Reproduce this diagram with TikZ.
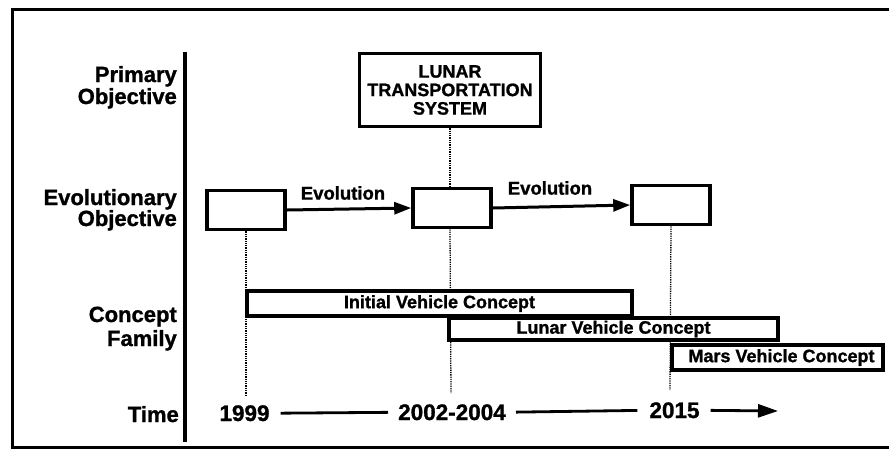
\documentclass[tikz,border=0pt]{standalone}
\usepackage{fontspec}
\setmainfont{Liberation Sans}[BoldFeatures={FakeBold=1.2}]
\usetikzlibrary{arrows.meta}
\begin{document}
\begin{tikzpicture}[x=1pt,y=-1pt,
  lbl/.style={font=\fontsize{22}{24}\selectfont\bfseries, anchor=base east, inner sep=0pt},
  yr/.style={font=\fontsize{22.5}{24}\selectfont\bfseries, anchor=base, inner sep=0pt},
  ebox/.style={draw, line width=3.6pt, fill=white, minimum width=78pt, minimum height=39pt, inner sep=0pt},
  cbox/.style={draw, line width=3.2pt, fill=white, inner sep=0pt, font=\fontsize{18}{18}\selectfont\bfseries},
  ltsbox/.style={draw, line width=3.4pt, fill=white, inner sep=0pt, minimum width=181pt, minimum height=73pt, align=center, font=\fontsize{18}{18.5}\selectfont\bfseries},
  evotxt/.style={font=\fontsize{18.5}{20}\selectfont\bfseries, inner sep=0pt},
  dots/.style={line width=1.3pt, densely dotted},
  evo/.style={line width=3pt, -{Triangle[length=17pt,width=12pt]}},
  tline/.style={line width=2.8pt},
  tarrow/.style={line width=2.8pt, -{Triangle[length=20pt,width=13pt]}}
]
\useasboundingbox (0,0) rectangle (889,451);
% frame
\draw[line width=3pt] (895,9) -- (12,9) -- (12,447) -- (895,447);
% axis
\coordinate (axT) at (185,52);
\coordinate (axB) at (185,442);
\draw[line width=3.2pt] (axT) -- (axB);
% row labels
\node[lbl] (l1) at (177,82) {Primary};
\node[lbl] (l2) at (177,104) {Objective};
\node[lbl] (l3) at (177,205) {Evolutionary};
\node[lbl] (l4) at (177,226) {Objective};
\node[lbl] (l5) at (177,322) {Concept};
\node[lbl] (l6) at (177,346) {Family};
\node[lbl] (l7) at (179,422) {Time};
% free ends of dotted lines
\coordinate (d1) at (246,396);
\coordinate (d2) at (451,393);
\coordinate (d3) at (670,390);
% top box
\node[ltsbox] (lts) at (450,90) {LUNAR\\TRANSPORTATION\\SYSTEM};
% evolutionary boxes
\node[ebox] (b1) at (246,210) {};
\node[ebox] (b2) at (452,208) {};
\node[ebox] (b3) at (671,205) {};
% dotted lines
\draw[dots] (lts.south) -- (lts.south |- b2.north);
\draw[dots] (b1.south) -- (d1);
\draw[dots] (b2.south -| lts.south) -- (d2);
\draw[dots] (b3.south) -- (d3);
% redraw boxes on top
\node[ebox] at (246,210) {};
\node[ebox] at (452,208) {};
\node[ebox] at (671,205) {};
% evolution arrows
\draw[evo] (b1.east) -- (b2.west);
\draw[evo] (b2.east) -- (b3.west);
\node[evotxt] (e1) at (343,193) {Evolution};
\node[evotxt] (e2) at (550,188) {Evolution};
% concept boxes
\node[cbox, minimum width=385pt, minimum height=25pt] (ic) at (439.5,303.5) {Initial Vehicle Concept};
\node[cbox, minimum width=329pt, minimum height=22pt] (lc) at (613.5,329) {Lunar Vehicle Concept};
\node[cbox, minimum width=211pt, minimum height=25pt] (mc) at (777.5,357.5) {\hspace*{8pt}Mars Vehicle Concept};
% time row
\node[yr] (t1) at (244.5,421) {1999};
\node[yr] (t2) at (452,420) {2002-2004};
\node[yr] (t3) at (674.5,418) {2015};
\coordinate (tend) at (778,411);
\draw[tline, shorten <=11pt, shorten >=10pt] (t1.east) -- (t2.west);
\draw[tline, shorten <=10pt, shorten >=12pt] (t2.east) -- (t3.west);
\draw[tarrow, shorten <=11pt] (t3.east) -- (tend);
\end{tikzpicture}
\end{document}
